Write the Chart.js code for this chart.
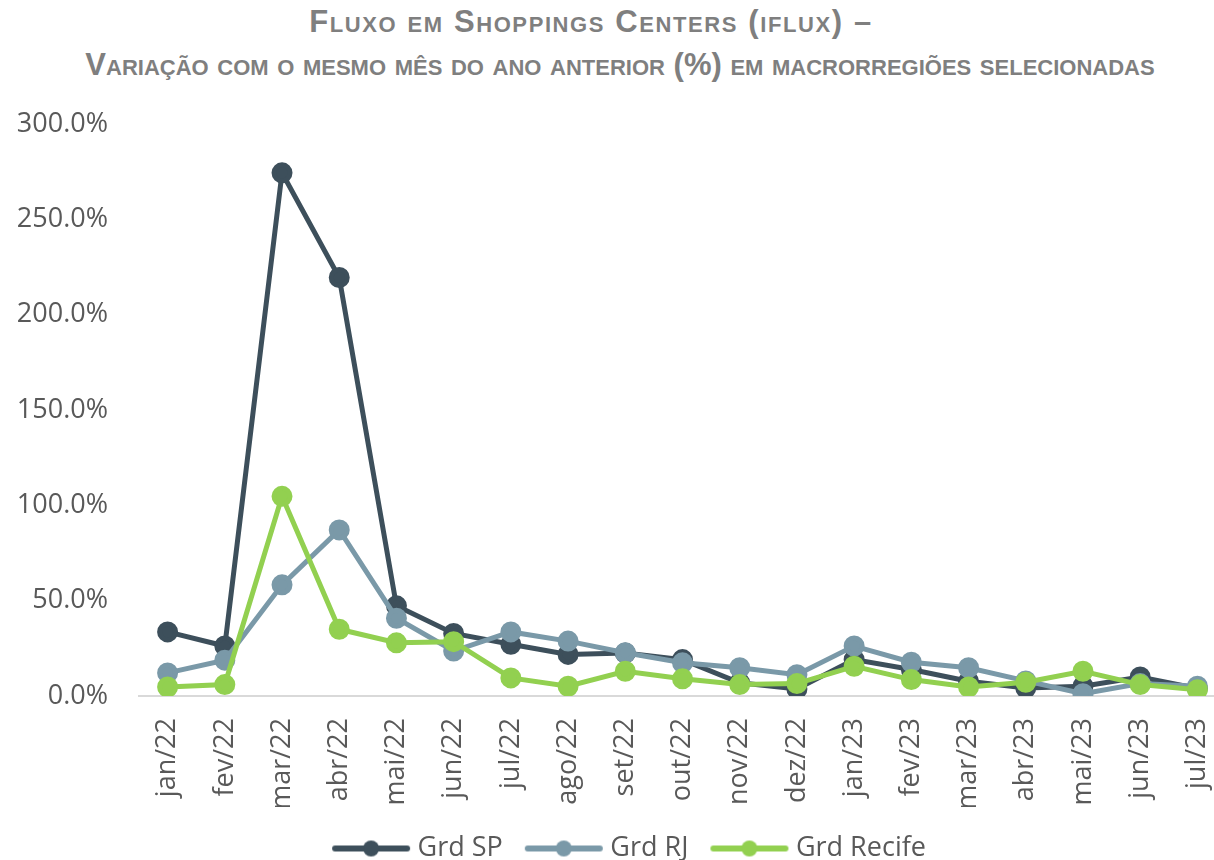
<!DOCTYPE html>
<html>
<head>
<meta charset="utf-8">
<script src="https://cdn.jsdelivr.net/npm/chart.js@4.4.1/dist/chart.umd.min.js"></script>
<style>
  html, body { margin: 0; padding: 0; background: #fff; overflow: hidden; }
  #wrap { position: relative; width: 1262px; height: 860px; }
  .ttl {
    position: absolute; left: 0; width: 1240px; text-align: center;
    font-family: "Liberation Sans Narrow", "Liberation Sans", Arial, sans-serif;
    font-weight: bold; font-variant: small-caps; font-size: 31px; color: #7f7f7f;
    line-height: 30px; white-space: nowrap;
  }
  #t1 { top: 7px; left: -29px; letter-spacing: 1.6px; }
  #t2 { top: 50px; letter-spacing: 0px; }
  canvas { position: absolute; left: 0; top: 0; }
</style>
</head>
<body>
<div id="wrap">
  <div class="ttl" id="t1">Fluxo em Shoppings Centers (iflux) –</div>
  <div class="ttl" id="t2">Variação com o mesmo mês do ano anterior (%) em macrorregiões selecionadas</div>
  <canvas id="myChart" width="1262" height="860"></canvas>
</div>
<script>
const meses = ['jan/22', 'fev/22', 'mar/22', 'abr/22', 'mai/22', 'jun/22', 'jul/22', 'ago/22', 'set/22',
  'out/22', 'nov/22', 'dez/22', 'jan/23', 'fev/23', 'mar/23', 'abr/23', 'mai/23', 'jun/23', 'jul/23'];

// variacao % vs mesmo mes do ano anterior
const grdSP = [33.6, 26.2, 274.4, 219.5, 47.3, 32.8, 27.1, 21.8, 22.5, 19.1, 6.9, 3.7, 19.1, 13.9, 7.7, 4.2, 5.1, 10.0, 4.0];
const grdRJ = [12.1, 18.8, 58.3, 87.1, 40.8, 23.6, 33.6, 28.8, 22.7, 17.4, 14.8, 11.2, 26.2, 17.7, 14.8, 7.9, 1.2, 6.5, 5.1];
const grdRecife = [4.7, 6.0, 104.7, 35.0, 27.9, 28.5, 9.5, 5.1, 13.0, 9.0, 6.0, 6.5, 15.6, 8.6, 4.7, 7.2, 13.0, 6.0, 3.3];

const yTicks = [0, 50, 100, 150, 200, 250, 300];

const cores = { sp: '#3d4f5b', rj: '#7a99a8', recife: '#92d050' };
const textColor = '#595959';
const fonte = 'Open Sans';

// icone da legenda: linha com bolinha no meio
const legendIcon = (color) => {
  const c = document.createElement('canvas');
  c.width = 80; c.height = 20;
  const g = c.getContext('2d');
  g.strokeStyle = color; g.lineWidth = 6; g.lineCap = 'round';
  g.beginPath(); g.moveTo(4, 10); g.lineTo(76, 10); g.stroke();
  g.fillStyle = color;
  g.beginPath(); g.arc(40, 10, 8, 0, Math.PI * 2); g.fill();
  return c;
};

// empurra a legenda um pouco pra direita (no original ela nao fica centrada no canvas)
const legendShift = {
  id: 'legendShift',
  afterLayout: (chart) => {
    chart.legend.left += 12;
    chart.legend.right += 12;
  }
};

const serie = (label, data, color, order) => ({
  label: label,
  data: data,
  borderColor: color,
  backgroundColor: color,
  pointBackgroundColor: color,
  pointBorderColor: color,
  borderWidth: 5,
  pointRadius: 8,
  pointHoverRadius: 8,
  tension: 0,
  order: order
});

const ctx = document.getElementById('myChart').getContext('2d');
const myChart = new Chart(ctx, {
  type: 'line',
  data: {
    labels: meses,
    datasets: [
      serie('Grd SP', grdSP, cores.sp, 2),
      serie('Grd RJ', grdRJ, cores.rj, 1),
      serie('Grd Recife', grdRecife, cores.recife, 0)
    ]
  },
  plugins: [legendShift],
  options: {
    responsive: false,
    animation: false,
    layout: { padding: { top: 124, right: 36, left: 14, bottom: -12 } },
    scales: {
      x: {
        offset: true,
        grid: { display: false, drawTicks: false },
        border: { display: true, color: '#d9d9d9', width: 2 },
        ticks: {
          color: textColor, font: { family: fonte, size: 27 },
          minRotation: 90, maxRotation: 90, padding: 22, autoSkip: false
        },
        afterFit: (axis) => { axis.height = 111; axis.paddingLeft = 0; axis.paddingRight = 0; }
      },
      y: {
        min: 0, max: 300,
        afterBuildTicks: (axis) => { axis.ticks = yTicks.map(v => ({ value: v })); },
        grid: { display: false, drawTicks: false },
        border: { display: false },
        ticks: {
          color: textColor, font: { family: fonte, size: 27 }, padding: 31,
          callback: (v) => v.toFixed(1) + '%'
        },
        afterFit: (axis) => { axis.width = 125; axis.paddingTop = 0; axis.paddingBottom = 0; }
      }
    },
    plugins: {
      tooltip: { enabled: false },
      legend: {
        position: 'bottom',
        labels: {
          usePointStyle: true,
          pointStyleWidth: 66,
          padding: 28,
          color: textColor,
          font: { family: fonte, size: 27 },
          sort: (a, b) => a.datasetIndex - b.datasetIndex,
          generateLabels: (chart) => {
            const items = Chart.defaults.plugins.legend.labels.generateLabels(chart);
            return items.map(it => {
              it.pointStyle = legendIcon(chart.data.datasets[it.datasetIndex].borderColor);
              return it;
            });
          }
        }
      }
    }
  }
});
</script>
</body>
</html>
